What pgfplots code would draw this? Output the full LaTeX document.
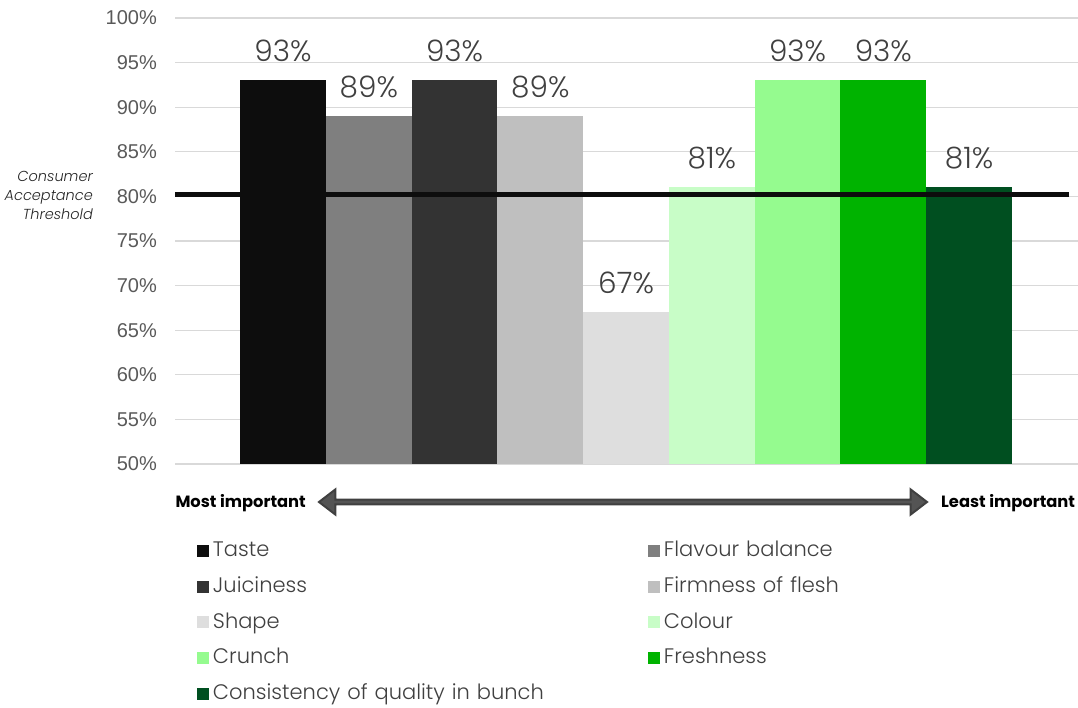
\documentclass[border=0pt]{standalone}
\usepackage{pgfplots}
\pgfplotsset{compat=1.18}
\usepackage{fontspec}
\setmainfont{Poppins}
\newfontfamily\poplight{Poppins Light}
\newfontfamily\arialf{Liberation Sans}
\usetikzlibrary{shapes.arrows}
\definecolor{cTaste}{HTML}{0D0D0D}
\definecolor{cFlav}{HTML}{7F7F7F}
\definecolor{cJuic}{HTML}{333333}
\definecolor{cFirm}{HTML}{BFBFBF}
\definecolor{cShape}{HTML}{DEDEDE}
\definecolor{cColour}{HTML}{C8FDC7}
\definecolor{cCrunch}{HTML}{95FB8F}
\definecolor{cFresh}{HTML}{00B300}
\definecolor{cCons}{HTML}{004F20}
\definecolor{gridc}{HTML}{D9D9D9}
\definecolor{tickc}{HTML}{595959}
\definecolor{labc}{HTML}{404040}
\begin{document}
\begin{tikzpicture}[x=1pt,y=1pt]
\useasboundingbox (0,0) rectangle (1078,707);
\begin{axis}[
  scale only axis, width=903pt, height=446pt,
  at={(175pt,243pt)}, anchor=south west,
  xmin=-1.26, xmax=9.27, ymin=50, ymax=100,
  xtick=\empty,
  ytick={50,55,...,100},
  yticklabels={50\%,55\%,60\%,65\%,70\%,75\%,80\%,85\%,90\%,95\%,100\%},
  yticklabel style={font=\arialf\fontsize{20}{24}\selectfont, color=tickc, inner sep=0pt, xshift=-18pt},
  ytick style={draw=none},
  ymajorgrids, grid style={color=gridc, line width=1.3pt},
  axis line style={draw=none},
  /pgf/number format/assume math mode=true,
  nodes near coords={\pgfmathprintnumber{\pgfplotspointmeta}\%},
  nodes near coords style={font=\poplight\fontsize{29.5}{30}\selectfont, color=labc, anchor=base, inner sep=0pt, yshift=18.5pt},
  legend cell align=left,
  legend image code/.code={\fill[#1] (0pt,-6pt) rectangle (12pt,6pt); \path (16pt,0pt);},
  legend columns=2,
  legend style={at={(0.02436,-0.1722)}, anchor=north west, draw=none, inner sep=0pt, outer sep=0pt,
    row sep=15.7pt, column sep=0pt,
    font=\poplight\fontsize{21}{24}\selectfont, text=labc,
    nodes={inner sep=0pt, text height=16pt, text depth=4pt, text width=435pt, align=left}},
]
\addplot[ybar, bar width=1, fill=cTaste, draw=none] coordinates {(0,93)};
\addlegendentry{Taste}
\addplot[ybar, bar width=1, fill=cFlav, draw=none] coordinates {(1,89)};
\addlegendentry{Flavour balance}
\addplot[ybar, bar width=1, fill=cJuic, draw=none] coordinates {(2,93)};
\addlegendentry{Juiciness}
\addplot[ybar, bar width=1, fill=cFirm, draw=none] coordinates {(3,89)};
\addlegendentry{Firmness of flesh}
\addplot[ybar, bar width=1, fill=cShape, draw=none] coordinates {(4,67)};
\addlegendentry{Shape}
\addplot[ybar, bar width=1, fill=cColour, draw=none] coordinates {(5,81)};
\addlegendentry{Colour}
\addplot[ybar, bar width=1, fill=cCrunch, draw=none] coordinates {(6,93)};
\addlegendentry{Crunch}
\addplot[ybar, bar width=1, fill=cFresh, draw=none] coordinates {(7,93)};
\addlegendentry{Freshness}
\addplot[ybar, bar width=1, fill=cCons, draw=none] coordinates {(8,81)};
\addlegendentry{Consistency of quality in bunch}
\addplot[forget plot, nodes near coords={}, draw=cTaste, line width=5pt, mark=none] coordinates {(-1.26,80.24) (9.165,80.24)};
\end{axis}
\node[anchor=east, align=right, font=\poplight\itshape\fontsize{14.5}{19}\selectfont, text=black!85, inner sep=0pt] at (93,512) {Consumer\\Acceptance\\Threshold};
\node[double arrow, fill=black!67, draw=black!75, line width=2pt, minimum height=608pt, minimum width=25pt, double arrow head extend=4.5pt, double arrow tip angle=75, inner sep=0pt] at (623,205) {};
\node[anchor=base east, font=\bfseries\fontsize{16.3}{18}\selectfont, inner sep=0pt] at (306,200) {Most important};
\node[anchor=base west, font=\bfseries\fontsize{16.3}{18}\selectfont, inner sep=0pt] at (941,200) {Least important};
\end{tikzpicture}
\end{document}
